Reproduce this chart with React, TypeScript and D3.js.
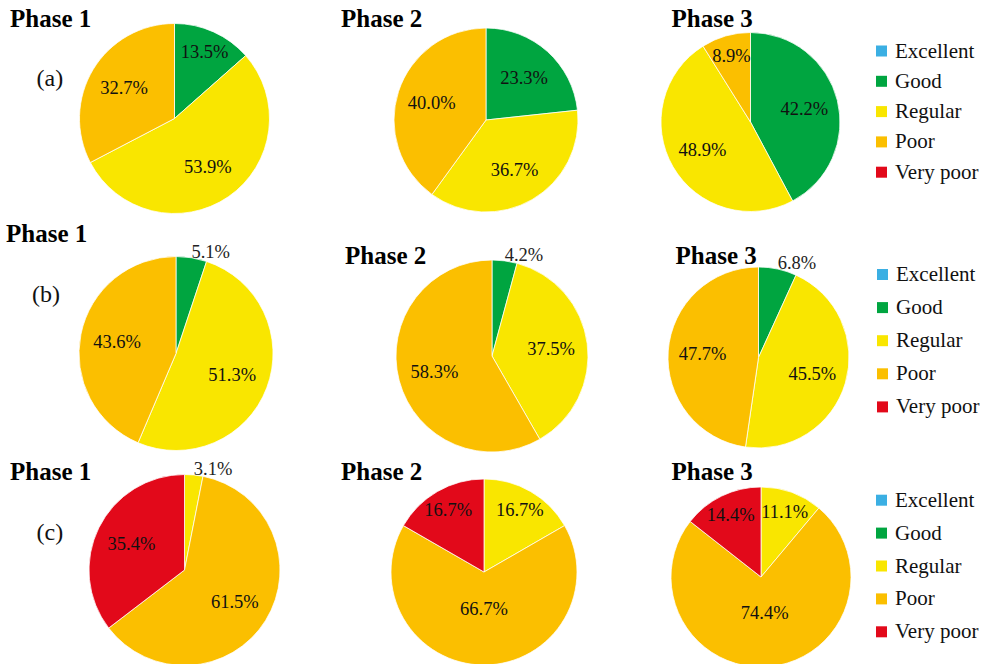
import React from "react";
import * as d3 from "d3";

// ---------- data ----------
const categories = ["Excellent", "Good", "Regular", "Poor", "Very poor"];
const phases = ["Phase 1", "Phase 2", "Phase 3"];
const rowLabels = ["(a)", "(b)", "(c)"];
// values per phase, in category order
const rowA = [
  [0, 13.5, 53.9, 32.7, 0],
  [0, 23.3, 36.7, 40.0, 0],
  [0, 42.2, 48.9, 8.9, 0],
];
const rowB = [
  [0, 5.1, 51.3, 43.6, 0],
  [0, 4.2, 37.5, 58.3, 0],
  [0, 6.8, 45.5, 47.7, 0],
];
const rowC = [
  [0, 0, 3.1, 61.5, 35.4],
  [0, 0, 16.7, 66.7, 16.7],
  [0, 0, 11.1, 74.4, 14.4],
];
const rows = [rowA, rowB, rowC];

// ---------- styles / layout ----------
const colors = ["#3bafe3", "#00a540", "#f9e600", "#fbbf00", "#e2091a"];
const FONT = "'Liberation Serif', 'DejaVu Serif', serif";

const pieLayout = [
  [
    { cx: 174.5, cy: 118.5, r: 95 },
    { cx: 486, cy: 120, r: 92 },
    { cx: 750.5, cy: 122, r: 89.5 },
  ],
  [
    { cx: 176, cy: 353.5, r: 97 },
    { cx: 492, cy: 356, r: 96 },
    { cx: 758.5, cy: 357.5, r: 90.5 },
  ],
  [
    { cx: 184.5, cy: 570, r: 95.5 },
    { cx: 484, cy: 572, r: 93 },
    { cx: 761, cy: 577, r: 90 },
  ],
];
const titleLayout = [
  [
    { x: 10, y: 26.5 },
    { x: 341, y: 26.5 },
    { x: 671.5, y: 26.5 },
  ],
  [
    { x: 6, y: 241.5 },
    { x: 345, y: 264 },
    { x: 675.5, y: 264 },
  ],
  [
    { x: 10, y: 480 },
    { x: 341, y: 480 },
    { x: 671.5, y: 480 },
  ],
];
const rowLabelLayout = [
  { x: 36.5, y: 86 },
  { x: 32, y: 302 },
  { x: 36.5, y: 540 },
];
const legendLayout = [
  { x: 876, y0: 57.5, step: 30.3 },
  { x: 877, y0: 281, step: 33.1 },
  { x: 876, y0: 506.7, step: 32.9 },
];

const pieGen = d3
  .pie<number>()
  .sort(null)
  .value((d) => d)
  .startAngle(0)
  .endAngle(2 * Math.PI);

function labelFactor(v: number) {
  if (v < 20) return 0.77;
  if (v >= 65) return 0.4;
  return 0.62;
}

function Pie({ values, cx, cy, r }: { values: number[]; cx: number; cy: number; r: number }) {
  const arcs = pieGen(values);
  const arc = d3.arc<d3.PieArcDatum<number>>().innerRadius(0).outerRadius(r);
  return (
    <g transform={`translate(${cx},${cy})`}>
      {arcs.map((a, i) =>
        a.value > 0 ? (
          <path key={i} d={arc(a) || ""} fill={colors[i]} stroke="#ffffff" strokeWidth={0.75} />
        ) : null
      )}
      {arcs.map((a, i) => {
        if (a.value <= 0) return null;
        const label = a.value.toFixed(1) + "%";
        if (a.value < 8) {
          const edge = d3.arc<d3.PieArcDatum<number>>().innerRadius(r).outerRadius(r);
          const [x, y] = edge.centroid(a);
          return (
            <text key={"t" + i} x={x} y={y} textAnchor="start" fontFamily={FONT} fontSize={18.5} fill="#222">
              {label}
            </text>
          );
        }
        const k = labelFactor(a.value) * r;
        const inner = d3.arc<d3.PieArcDatum<number>>().innerRadius(k).outerRadius(k);
        const [x, y] = inner.centroid(a);
        return (
          <text
            key={"t" + i}
            x={x}
            y={y}
            dy="0.34em"
            textAnchor="middle"
            fontFamily={FONT}
            fontSize={18.5}
            fill="#111"
          >
            {label}
          </text>
        );
      })}
    </g>
  );
}

function Legend({ x, y0, step }: { x: number; y0: number; step: number }) {
  const y = d3
    .scalePoint<string>()
    .domain(categories)
    .range([y0, y0 + step * (categories.length - 1)]);
  return (
    <g>
      {categories.map((c, i) => (
        <g key={c}>
          <rect x={x} y={(y(c) as number) - 12} width={11} height={11} fill={colors[i]} />
          <text x={x + 19} y={y(c)} fontFamily={FONT} fontSize={21} fill="#111">
            {c}
          </text>
        </g>
      ))}
    </g>
  );
}

export default function App() {
  return (
    <svg
      width={990}
      height={664}
      style={{ position: "absolute", left: 0, top: 0, background: "#fff" }}
    >
      <rect width={990} height={664} fill="#fff" />
      {rows.map((row, ri) => (
        <g key={ri}>
          {row.map((vals, pi) => (
            <Pie key={pi} values={vals} {...pieLayout[ri][pi]} />
          ))}
          {phases.map((p, pi) => (
            <text
              key={p}
              x={titleLayout[ri][pi].x}
              y={titleLayout[ri][pi].y}
              fontFamily={FONT}
              fontWeight="bold"
              fontSize={25}
              fill="#000"
            >
              {p}
            </text>
          ))}
          <text
            x={rowLabelLayout[ri].x}
            y={rowLabelLayout[ri].y}
            fontFamily={FONT}
            fontSize={24}
            fill="#111"
          >
            {rowLabels[ri]}
          </text>
          <Legend {...legendLayout[ri]} />
        </g>
      ))}
    </svg>
  );
}
